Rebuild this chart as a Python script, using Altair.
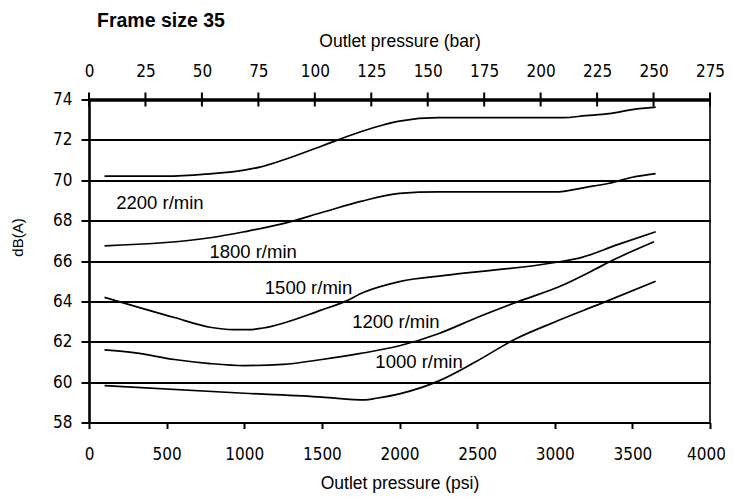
import altair as alt
import pandas as pd

# ---- data ----
series_names = ["2200 r/min", "1800 r/min", "1500 r/min", "1200 r/min", "1000 r/min"]

psi_2200 = [100, 500, 750, 1000, 1100, 1250, 1500, 1750, 1900, 2000, 2250, 3050, 3200, 3350, 3500, 3650]
db_2200 = [70.2, 70.2, 70.3, 70.5, 70.65, 71.0, 71.7, 72.4, 72.75, 72.93, 73.1, 73.1, 73.2, 73.3, 73.5, 73.62]

psi_1800 = [100, 780, 1000, 1250, 1500, 1750, 2000, 2250, 3000, 3200, 3350, 3500, 3650]
db_1800 = [66.75, 67.15, 67.45, 67.85, 68.4, 68.95, 69.35, 69.42, 69.42, 69.65, 69.85, 70.15, 70.33]

psi_1500 = [100, 550, 780, 930, 1030, 1120, 1500, 1650, 1770, 2000, 2325, 2970, 3170, 3400, 3650]
db_1500 = [64.2, 63.2, 62.72, 62.6, 62.6, 62.68, 63.58, 64.0, 64.45, 64.98, 65.31, 65.89, 66.17, 66.8, 67.45]

psi_1200 = [100, 300, 550, 780, 1000, 1250, 1500, 1750, 2000, 2250, 2500, 2750, 3050, 3250, 3350, 3640]
db_1200 = [61.6, 61.45, 61.12, 60.92, 60.82, 60.88, 61.12, 61.42, 61.8, 62.4, 63.2, 63.95, 64.8, 65.55, 65.95, 66.95]

psi_1000 = [100, 1000, 1500, 1780, 1850, 2000, 2250, 2500, 2750, 3000, 3300, 3650]
db_1000 = [59.83, 59.45, 59.26, 59.12, 59.2, 59.42, 60.05, 61.05, 62.15, 62.98, 63.9, 65.0]

label_psi = [457, 1057, 1414, 1977, 2126]
label_db = [68.85, 66.47, 64.65, 63.0, 61.02]

psi_ticks = [0, 500, 1000, 1500, 2000, 2500, 3000, 3500, 4000]
db_ticks = [58, 60, 62, 64, 66, 68, 70, 72, 74]
bar_ticks = [0, 25, 50, 75, 100, 125, 150, 175, 200, 225, 250, 275]
right_edge = [4000]

rows = []
for name, xs, ys in zip(series_names,
                        [psi_2200, psi_1800, psi_1500, psi_1200, psi_1000],
                        [db_2200, db_1800, db_1500, db_1200, db_1000]):
    for x, y in zip(xs, ys):
        rows.append({"series": name, "psi": x, "db": y})
curves = pd.DataFrame(rows)
labels = pd.DataFrame({"label": series_names, "psi": label_psi, "db": label_db})
edge = pd.DataFrame({"psi": right_edge, "lo": [db_ticks[0]], "hi": [db_ticks[-1]]})
bars = pd.DataFrame({"bar": bar_ticks})

NARROW = "DejaVu Sans Condensed, Liberation Sans, sans-serif"
REG = "Liberation Sans, Arial, sans-serif"
TICK_FS = 17

x_scale = alt.Scale(domain=[0, 4000], nice=False, zero=False)
y_scale = alt.Scale(domain=[58, 74], nice=False, zero=False)

x_axis = alt.Axis(orient="bottom", values=psi_ticks, format="d", grid=False,
                  domainColor="black", domainWidth=2,
                  tickColor="black", tickWidth=2, tickSize=6,
                  labelPadding=18, labelFont=NARROW, labelFontSize=TICK_FS,
                  labelColor="black", labelFlush=False, labelOverlap=False,
                  labelOffset={"condition": {"test": "datum.value === 4000",
                                             "value": -4}, "value": 0},
                  title="Outlet pressure (psi)", titleFont=REG, titleFontSize=17.5,
                  titleFontWeight="normal", titleColor="black",
                  titleY=66, titleBaseline="alphabetic")

y_axis = alt.Axis(values=db_ticks, format="d", grid=True, gridColor="black",
                  gridWidth=2, gridOpacity=1,
                  domainColor="black", domainWidth=2.6,
                  tickColor="black", tickWidth=2, tickSize=8,
                  labelPadding=9, labelFont=NARROW, labelFontSize=TICK_FS,
                  labelColor="black", labelFlush=False, labelOverlap=False,
                  title="dB(A)", titleFont=REG, titleFontSize=15,
                  titleFontWeight="normal", titleColor="black",
                  titleX=-72, titleY=137.5, titleAngle=270,
                  titleAlign="center", titleBaseline="middle")

lines = alt.Chart(curves).mark_line(color="black", strokeWidth=1.7,
                                    interpolate="monotone").encode(
    x=alt.X("psi:Q", scale=x_scale, axis=x_axis),
    y=alt.Y("db:Q", scale=y_scale, axis=y_axis),
    detail="series:N",
)

texts = alt.Chart(labels).mark_text(font=REG, fontSize=18.5, color="black",
                                    align="center", baseline="middle").encode(
    x=alt.X("psi:Q", scale=x_scale),
    y=alt.Y("db:Q", scale=y_scale),
    text="label:N",
)

right_rule = alt.Chart(edge).mark_rule(color="black", strokeWidth=1.6).encode(
    x=alt.X("psi:Q", scale=x_scale),
    y=alt.Y("lo:Q", scale=y_scale),
    y2="hi:Q",
)

inner = alt.layer(lines, texts, right_rule)

top = alt.Chart(bars).mark_rule(color="black", strokeWidth=2).encode(
    x=alt.X("bar:Q", scale=alt.Scale(domain=[0, 275], nice=False, zero=False),
            axis=alt.Axis(orient="top", values=bar_ticks, format="d", ticks=False,
                          grid=False, domainColor="black", domainWidth=3.5,
                          labelPadding=19, labelFont=NARROW, labelFontSize=TICK_FS,
                          labelColor="black", labelFlush=False, labelOverlap=False,
                          title="Outlet pressure (bar)", titleFont=REG,
                          titleFontSize=17.5, titleFontWeight="normal",
                          titleColor="black", titleY=-53,
                          titleBaseline="alphabetic")),
    y=alt.value(-7),
    y2=alt.value(7),
)

chart = alt.layer(inner, top).resolve_scale(x="independent").properties(
    width=621,
    height=323,
    autosize=alt.AutoSizeParams(type="none"),
    padding={"left": 81, "top": 91.5, "right": 15, "bottom": 70},
    title=alt.TitleParams("Frame size 35", anchor="start", frame="group", dx=8,
                          font=REG, fontSize=19.5, fontWeight="bold",
                          color="black", offset=1),
).configure_view(stroke=None).configure(background="white")

chart.save("out.html", embed_options={"renderer": "svg", "actions": False})
